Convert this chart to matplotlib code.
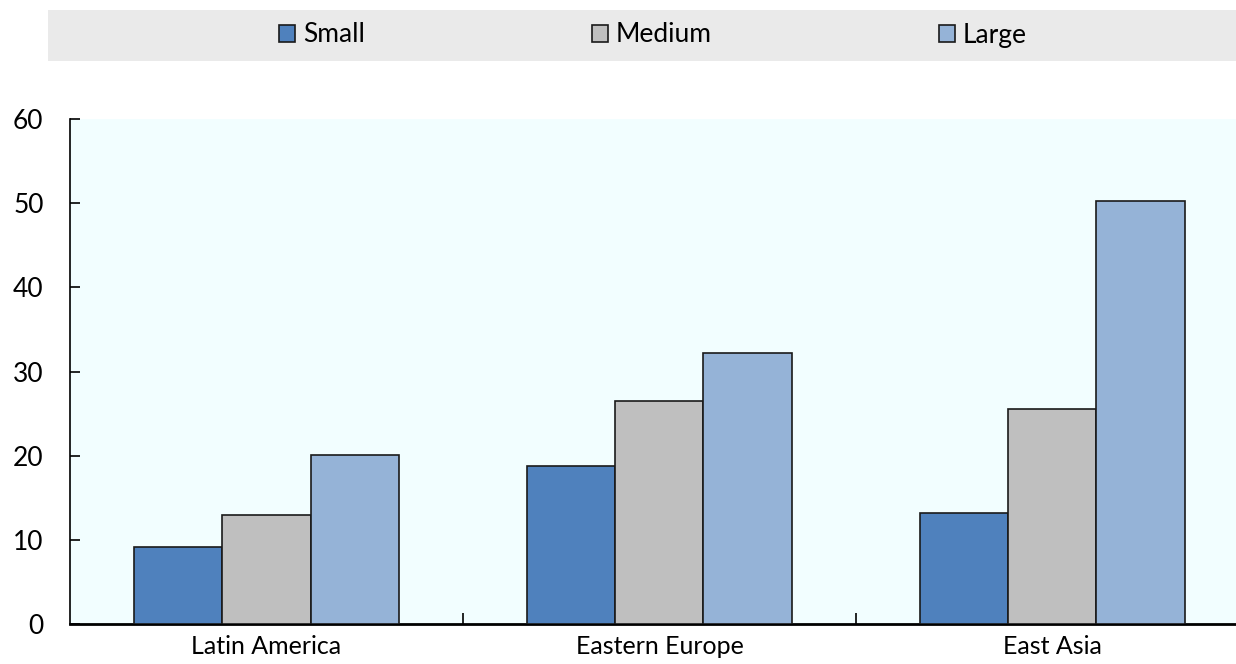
import numpy as np
import matplotlib
matplotlib.use("Agg")
import matplotlib.pyplot as plt
from matplotlib.patches import Rectangle

plt.rcParams["font.family"] = ["Lato", "DejaVu Sans"]

regions = ["Latin America", "Eastern Europe", "East Asia"]
series = ["Small", "Medium", "Large"]
small = [9.1, 18.8, 13.2]
medium = [12.9, 26.5, 25.5]
large = [20.1, 32.2, 50.2]

COLORS = ["#4F81BD", "#BFBFBF", "#95B3D7"]
PLOT_BG = "#F2FEFF"
LEGEND_BG = "#EAEAEA"

fig = plt.figure(figsize=(12.36, 6.64), dpi=100, facecolor="white")
ax = fig.add_axes([70 / 1236, 1 - 624 / 664, 1 - 70 / 1236, (624 - 119) / 664])
ax.set_facecolor(PLOT_BG)

x = np.arange(len(regions))
w = 0.224
for i, (vals, name) in enumerate(zip([small, medium, large], series)):
    ax.bar(x + (i - 1) * w, vals, width=w, color=COLORS[i],
           edgecolor="#1a1a1a", linewidth=1.2, label=name, zorder=3)

ax.set_ylim(0, 60)
ax.set_yticks(range(0, 61, 10))
ax.set_xlim(-0.5, 2.467)
ax.set_xticks(x)
ax.set_xticklabels(regions)
ax.set_xticks([0.5, 1.5], minor=True)

for s in ["top", "right"]:
    ax.spines[s].set_visible(False)
ax.spines["left"].set_linewidth(1.2)
ax.spines["bottom"].set_linewidth(2)

ax.tick_params(axis="y", direction="in", length=7, width=1.2, labelsize=19, pad=19)
ax.tick_params(axis="x", which="major", length=0, labelsize=18, pad=8)
ax.tick_params(axis="x", which="minor", direction="in", length=8, width=1.2)

# legend band
fig.patches.append(Rectangle((48 / 1236, 1 - 61 / 664), 1 - 48 / 1236, 51 / 664,
                             transform=fig.transFigure, facecolor=LEGEND_BG,
                             edgecolor="none", zorder=0))
handles, labels = ax.get_legend_handles_labels()
fig.legend(handles, labels, loc="center", bbox_to_anchor=(653 / 1236, 1 - 35 / 664),
           ncol=3, frameon=False, fontsize=19, handlelength=0.6, handleheight=0.6,
           handletextpad=0.3, columnspacing=8.6)

fig.savefig("out.png", dpi=100, facecolor="white")
